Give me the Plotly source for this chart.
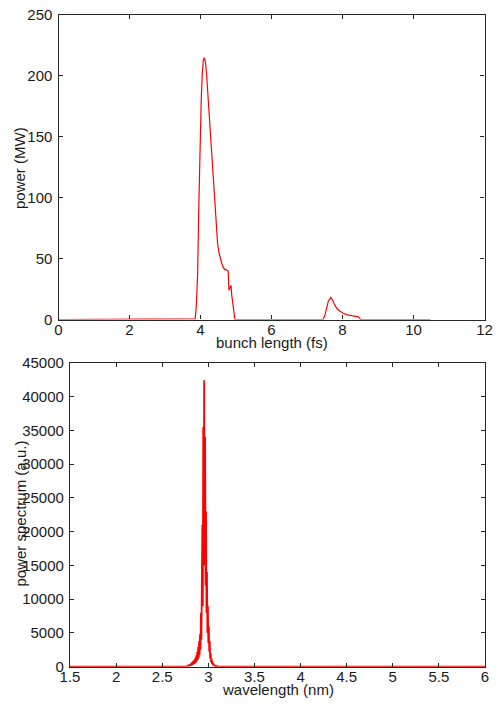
import plotly.graph_objects as go

# ---------------- data: top panel (power vs bunch length) ----------------
bunch_length = [0.0, 3.80, 3.85, 3.88, 3.92, 3.95, 3.99, 4.02, 4.05, 4.08, 4.11, 4.14,
                4.17, 4.21, 4.25, 4.29, 4.35, 4.41, 4.45, 4.48, 4.52, 4.56, 4.60, 4.64,
                4.68, 4.72, 4.76, 4.78, 4.80, 4.83, 4.86, 4.88, 4.92, 4.97,
                7.45, 7.50, 7.55, 7.60, 7.67, 7.72, 7.78, 7.84, 7.92, 8.02, 8.12,
                8.22, 8.30, 8.38, 8.45, 8.51, 10.48]
power_mw = [0, 0, 0.5, 10, 38, 90, 147, 180, 202, 213, 215, 211,
            202, 183, 165, 147, 118, 93, 75, 63, 55, 50, 46, 43,
            41, 41, 40.5, 40, 24, 26, 28, 20, 9, 0,
            0, 3, 9, 15, 18.2, 16, 12, 9.2, 7, 5.1, 4,
            3.2, 2.9, 2.6, 2.3, 0, 0]

x1_ticks = [0, 2, 4, 6, 8, 10, 12]
y1_ticks = [0, 50, 100, 150, 200, 250]

# ---------------- data: bottom panel (spectrum vs wavelength) ----------------
wavelength = [1.5, 2.755,
              2.760, 2.765, 2.770, 2.775, 2.780, 2.785, 2.790, 2.795, 2.800, 2.805,
              2.810, 2.815, 2.820, 2.825, 2.830, 2.835, 2.840, 2.845, 2.850, 2.855,
              2.860, 2.865, 2.870, 2.875, 2.880, 2.885, 2.890, 2.895, 2.900, 2.905,
              2.910, 2.915, 2.920, 2.925, 2.930, 2.935, 2.940, 2.945, 2.950, 2.955,
              2.960, 2.965, 2.970, 2.975, 2.980, 2.985, 2.990, 2.995, 3.000, 3.005,
              3.010, 3.015, 3.020, 3.025, 3.030, 3.035, 3.040, 3.045, 3.050, 3.055,
              3.060, 3.065, 3.070, 3.075, 3.080, 3.085, 3.090, 3.095, 3.100,
              6.0]
spectrum = [0, 0,
            30, 10, 80, 30, 150, 60, 250, 100, 350, 150,
            450, 200, 600, 250, 750, 320, 900, 400, 1050, 480,
            1300, 600, 1700, 800, 2200, 1000, 2900, 1300, 3800, 1700,
            4800, 2500, 8000, 4000, 13000, 21000, 9000, 35500, 15000, 42400,
            20000, 34000, 12000, 23000, 8000, 14000, 5000, 9000, 3500, 6000,
            2200, 3800, 1200, 2000, 700, 1200, 400, 800, 250, 500,
            150, 300, 80, 200, 40, 100, 20, 50, 0,
            0]

x2_ticks = [1.5, 2, 2.5, 3, 3.5, 4, 4.5, 5, 5.5, 6]
x2_labels = ["1.5", "2", "2.5", "3", "3.5", "4", "4.5", "5", "5.5", "6"]
y2_ticks = [0, 5000, 10000, 15000, 20000, 25000, 30000, 35000, 40000, 45000]
y2_labels = [str(v) for v in y2_ticks]

# ---------------- layout geometry ----------------
W, H = 498, 704
def px_x(p):
    return p / W
def px_y(p):
    return 1 - p / H

FONT = "Liberation Sans, Arial, sans-serif"
TXT = "#1a1a1a"
LINE = "#262626"

fig = go.Figure()
fig.add_trace(go.Scatter(x=bunch_length, y=power_mw, mode="lines",
                         line=dict(color="#ff0000", width=1.2),
                         xaxis="x", yaxis="y", showlegend=False))
fig.add_trace(go.Scatter(x=wavelength, y=spectrum, mode="lines",
                         line=dict(color="#ff0000", width=1.8),
                         xaxis="x2", yaxis="y2", showlegend=False))

axis_common = dict(showline=True, linecolor=LINE, linewidth=1.2, mirror="ticks",
                   ticks="inside", ticklen=4, tickcolor=LINE, showgrid=False,
                   zeroline=False, tickfont=dict(family=FONT, size=15, color=TXT),
                   automargin=False)

fig.update_layout(
    width=W, height=H,
    margin=dict(l=0, r=0, t=0, b=0),
    paper_bgcolor="white", plot_bgcolor="white",
    xaxis=dict(domain=[px_x(58.5), px_x(484.5)], range=[0, 12],
               tickvals=x1_ticks, anchor="y", ticklabelstandoff=-4, **axis_common),
    yaxis=dict(domain=[px_y(319.5), px_y(15)], range=[0, 250],
               tickvals=y1_ticks, anchor="x", ticklabelstandoff=2, **axis_common),
    xaxis2=dict(domain=[px_x(70), px_x(485)], range=[1.5, 6],
                tickvals=x2_ticks, ticktext=x2_labels, anchor="y2", ticklabelstandoff=-4,
                **axis_common),
    yaxis2=dict(domain=[px_y(666.7), px_y(362.7)], range=[0, 45000],
                tickvals=y2_ticks, ticktext=y2_labels, anchor="x2", ticklabelstandoff=2,
                **axis_common),
    annotations=[
        dict(text="bunch length (fs)", x=px_x(271.5), y=px_y(342), xref="paper", yref="paper",
             xanchor="center", yanchor="middle", showarrow=False,
             font=dict(family=FONT, size=15, color=TXT)),
        dict(text="power (MW)", x=px_x(19), y=px_y(168), xref="paper", yref="paper",
             xanchor="center", yanchor="middle", showarrow=False, textangle=-90,
             font=dict(family=FONT, size=15, color=TXT)),
        dict(text="wavelength (nm)", x=px_x(277.5), y=px_y(689), xref="paper", yref="paper",
             xanchor="center", yanchor="middle", showarrow=False,
             font=dict(family=FONT, size=15, color=TXT)),
        dict(text="power spectrum (a.u.)", x=px_x(19.5), y=px_y(514), xref="paper", yref="paper",
             xanchor="center", yanchor="middle", showarrow=False, textangle=-90,
             font=dict(family=FONT, size=15, color=TXT)),
    ],
)

fig.write_html("out.html", config={"displayModeBar": False},
               post_script="document.body.style.margin='0';document.body.style.padding='0';")
